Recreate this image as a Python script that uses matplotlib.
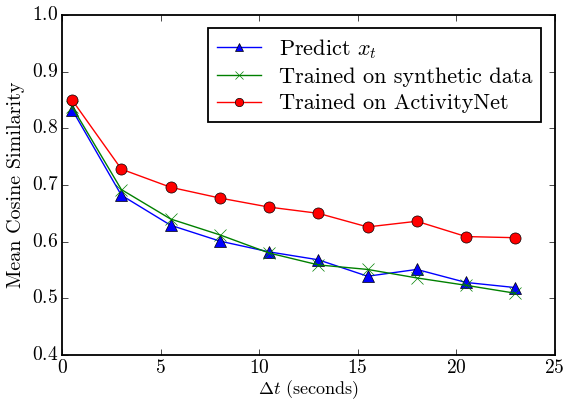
import matplotlib
matplotlib.use('Agg')
import matplotlib.pyplot as plt

# values
dt = [0.5, 3, 5.5, 8, 10.5, 13, 15.5, 18, 20.5, 23]
predict_xt = [0.833, 0.682, 0.629, 0.601, 0.582, 0.568, 0.539, 0.551, 0.528, 0.519]
synthetic = [0.838, 0.692, 0.640, 0.612, 0.580, 0.559, 0.551, 0.536, 0.523, 0.509]
activitynet = [0.850, 0.728, 0.696, 0.677, 0.661, 0.650, 0.626, 0.636, 0.609, 0.607]

plt.style.use('classic')
plt.rcParams['font.family'] = 'serif'
plt.rcParams['font.serif'] = ['cmr10']
plt.rcParams['mathtext.fontset'] = 'cm'
plt.rcParams['axes.unicode_minus'] = False
plt.rcParams['axes.formatter.use_mathtext'] = True
plt.rcParams['axes.linewidth'] = 1.3

fig = plt.figure(figsize=(5.66, 4.0), dpi=100, facecolor='white')
ax = fig.add_axes([0.11, 0.1125, 0.87, 0.85])

ax.plot(dt, predict_xt, color='b', marker='^', markersize=8, linewidth=1, label=r'Predict $x_t$')
ax.plot(dt, synthetic, color='g', marker='x', markersize=8, markeredgecolor='g', linewidth=1,
        label='Trained on synthetic data')
ax.plot(dt, activitynet, color='r', marker='o', markersize=8, linewidth=1, label='Trained on ActivityNet')

ax.set_xlim(0, 25)
ax.set_ylim(0.4, 1.0)
ax.set_xticks([0, 5, 10, 15, 20, 25])
ax.set_yticks([0.4, 0.5, 0.6, 0.7, 0.8, 0.9, 1.0])
ax.tick_params(labelsize=14, pad=3)
ax.set_xlabel(r'$\Delta t$ (seconds)', fontsize=13, labelpad=1)
ax.set_ylabel('Mean Cosine Similarity', fontsize=14.5, labelpad=5)

leg = ax.legend(loc='upper right', fontsize=16, numpoints=1, handlelength=2.0,
                markerscale=0.75, borderaxespad=0.6, handletextpad=0.8, labelspacing=0.3)
leg.get_frame().set_linewidth(1.3)

fig.savefig('out.png', dpi=100, facecolor='white')
